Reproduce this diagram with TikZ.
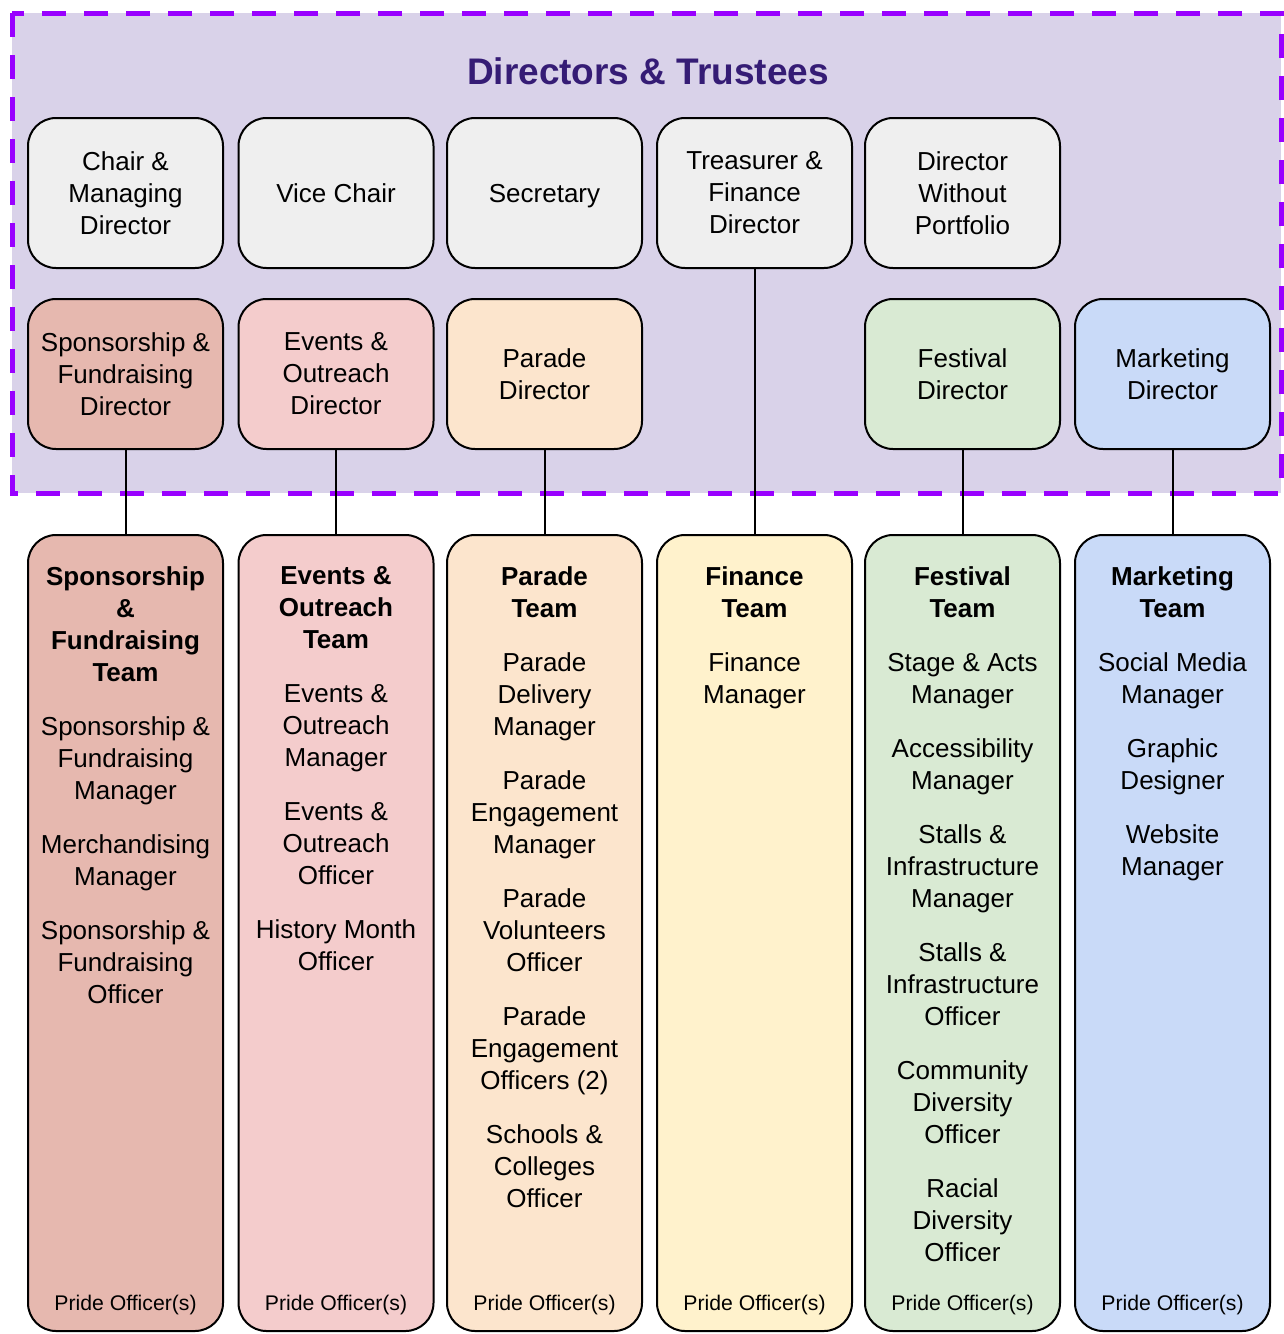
\documentclass[tikz,border=0pt]{standalone}
\usepackage{fontspec}
\setmainfont{Liberation Sans}
\usepackage{xcolor}
\usepackage{tikz}
\definecolor{panel}{HTML}{D9D2E9}
\definecolor{dashline}{HTML}{9900FF}
\definecolor{titlecol}{HTML}{351C75}
\definecolor{grey}{HTML}{EFEFEF}
\definecolor{spons}{HTML}{E6B8AF}
\definecolor{events}{HTML}{F4CCCC}
\definecolor{parade}{HTML}{FCE5CD}
\definecolor{finance}{HTML}{FFF2CC}
\definecolor{festival}{HTML}{D9EAD3}
\definecolor{marketing}{HTML}{C9DAF8}
\tikzset{
  rolebox/.style={draw=black, line width=1pt, rounded corners=14pt, minimum width=97.5pt, minimum height=75pt, inner sep=0pt, align=center, font=\fontsize{13}{16}\selectfont},
  teambox/.style={draw=black, line width=1pt, rounded corners=14pt, minimum width=97.5pt, minimum height=398pt, inner sep=0pt},
  teamtext/.style={anchor=north, inner sep=0pt, align=center, font=\fontsize{13}{16}\selectfont},
  pride/.style={inner sep=0pt, font=\fontsize{10.6}{12}\selectfont},
  link/.style={draw=black, line width=1pt},
  group/.style={fill=panel, draw=none},
  groupline/.style={draw=dashline, line width=2.5pt, dash pattern=on 12pt off 9pt},
  lab/.style={text=titlecol, font=\fontsize{18.5}{22}\selectfont\bfseries}
}

\begin{document}
\begin{tikzpicture}[x=0.5pt, y=-0.5pt]
  \useasboundingbox (0,0) rectangle (1284,1334);

  \fill[group] (12,13) rectangle (1281,493);
  \draw[groupline] (12,13) rectangle (1281,493);
  \node[lab] (title) at (648,71) {Directors \& Trustees};

  \node[rolebox, fill=grey] (chair) at (125.5,193) {Chair \&\\Managing\\Director};
  \node[rolebox, fill=grey] (vice) at (336,193) {Vice Chair};
  \node[rolebox, fill=grey, text depth=0pt] (secretary) at (544.5,193) {Secretary};
  \node[rolebox, fill=grey] (treasurer) at (754.5,193) {Treasurer \&\\Finance\\Director};
  \node[rolebox, fill=grey] (noport) at (962.5,193) {Director\\Without\\Portfolio};

  \node[rolebox, fill=spons] (sponsdir) at (125.5,374) {Sponsorship \&\\Fundraising\\Director};
  \node[rolebox, fill=events] (eventsdir) at (336,374) {Events \&\\Outreach\\Director};
  \node[rolebox, fill=parade] (paradedir) at (544.5,374) {Parade\\Director};
  \node[rolebox, fill=festival] (festdir) at (962.5,374) {Festival\\Director};
  \node[rolebox, fill=marketing] (marketdir) at (1172.5,374) {Marketing\\Director};

  \node[teambox, fill=spons] (sponsteam) at (125.5,933) {};
  \node[teambox, fill=events] (eventsteam) at (336,933) {};
  \node[teambox, fill=parade] (paradeteam) at (544.5,933) {};
  \node[teambox, fill=finance] (finteam) at (754.5,933) {};
  \node[teambox, fill=festival] (festteam) at (962.5,933) {};
  \node[teambox, fill=marketing] (marketteam) at (1172.5,933) {};

  \draw[link] (sponsdir) -- (sponsteam);
  \draw[link] (eventsdir) -- (eventsteam);
  \draw[link] (paradedir) -- (paradeteam);
  \draw[link] (treasurer) -- (finteam);
  \draw[link] (festdir) -- (festteam);
  \draw[link] (marketdir) -- (marketteam);

  \node[teamtext] (sponslist) at (125.5,566) {\textbf{Sponsorship}\\\textbf{\&}\\\textbf{Fundraising}\\\textbf{Team}\\[11pt]
    Sponsorship \&\\Fundraising\\Manager\\[11pt]Merchandising\\Manager\\[11pt]Sponsorship \&\\Fundraising\\Officer};
  \node[teamtext] (eventslist) at (336,566) {\textbf{Events \&}\\\textbf{Outreach}\\\textbf{Team}\\[11pt]
    Events \&\\Outreach\\Manager\\[11pt]Events \&\\Outreach\\Officer\\[11pt]History Month\\Officer};
  \node[teamtext] (paradelist) at (544.5,566) {\textbf{Parade}\\\textbf{Team}\\[11pt]
    Parade\\Delivery\\Manager\\[11pt]Parade\\Engagement\\Manager\\[11pt]Parade\\Volunteers\\Officer\\[11pt]Parade\\Engagement\\Officers (2)\\[11pt]Schools \&\\Colleges\\Officer};
  \node[teamtext] (finlist) at (754.5,566) {\textbf{Finance}\\\textbf{Team}\\[11pt]
    Finance\\Manager};
  \node[teamtext] (festlist) at (962.5,566) {\textbf{Festival}\\\textbf{Team}\\[11pt]
    Stage \& Acts\\Manager\\[11pt]Accessibility\\Manager\\[11pt]Stalls \&\\Infrastructure\\Manager\\[11pt]Stalls \&\\Infrastructure\\Officer\\[11pt]Community\\Diversity\\Officer\\[11pt]Racial\\Diversity\\Officer};
  \node[teamtext] (marketlist) at (1172.5,566) {\textbf{Marketing}\\\textbf{Team}\\[11pt]
    Social Media\\Manager\\[11pt]Graphic\\Designer\\[11pt]Website\\Manager};

  \node[pride] (sponspride) at (125.5,1305) {Pride Officer(s)};
  \node[pride] (eventspride) at (336,1305) {Pride Officer(s)};
  \node[pride] (paradepride) at (544.5,1305) {Pride Officer(s)};
  \node[pride] (finpride) at (754.5,1305) {Pride Officer(s)};
  \node[pride] (festpride) at (962.5,1305) {Pride Officer(s)};
  \node[pride] (marketpride) at (1172.5,1305) {Pride Officer(s)};
\end{tikzpicture}
\end{document}
